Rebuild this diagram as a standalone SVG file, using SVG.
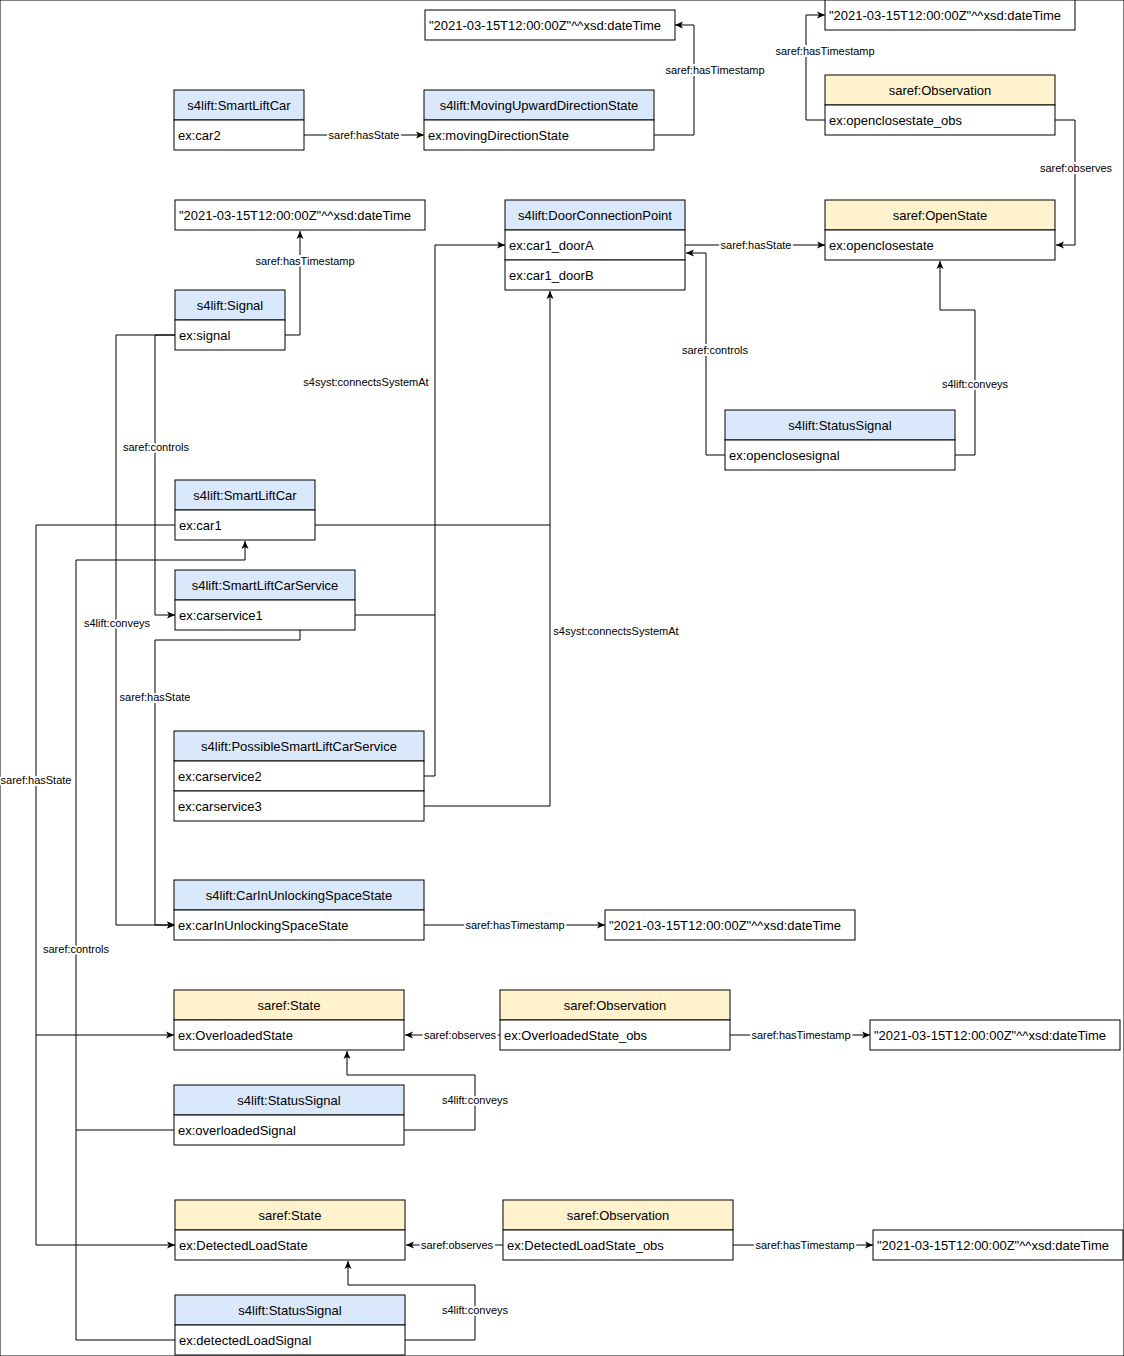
<svg xmlns="http://www.w3.org/2000/svg" width="1124" height="1356" viewBox="0 0 1124 1356">
<style>
rect{stroke:#000;stroke-width:1}
.b{fill:#dae8fc}.y{fill:#fff2cc}.w{fill:#fff}
text{font-family:"Liberation Sans",Arial,sans-serif;font-size:13px;fill:#000}
.h{text-anchor:middle}
.l{font-size:11px;text-anchor:middle;stroke:#fff;stroke-width:4px;paint-order:stroke;fill:#000}
#edges path{fill:none;stroke:#000;stroke-width:1}
</style>
<defs><marker id="a" markerWidth="10" markerHeight="10" refX="9" refY="5" orient="auto" markerUnits="userSpaceOnUse"><path d="M1,1.5 L9,5 L1,8.5 L3,5 Z" fill="#000"/></marker></defs>
<rect width="1124" height="1356" fill="#fff" stroke="none"/>
<g id="edges">
<path d="M304,135H424" marker-end="url(#a)"/>
<path d="M654,135H694V25H675" marker-end="url(#a)"/>
<path d="M825,120H806V15H825" marker-end="url(#a)"/>
<path d="M1055,120H1075V245H1056" marker-end="url(#a)"/>
<path d="M685,245H825" marker-end="url(#a)"/>
<path d="M725,455H706V253H686" marker-end="url(#a)"/>
<path d="M955,455H975V310H940V261" marker-end="url(#a)"/>
<path d="M285,335H300V231" marker-end="url(#a)"/>
<path d="M175,335H155V615H175" marker-end="url(#a)"/>
<path d="M175,335H116V925H175" marker-end="url(#a)"/>
<path d="M315,525H550V291" marker-end="url(#a)"/>
<path d="M424,806H550V525"/>
<path d="M355,615H435V245H505" marker-end="url(#a)"/>
<path d="M424,776H435V615"/>
<path d="M300,630V640H155V925H175" marker-end="url(#a)"/>
<path d="M175,525H36V1245H175" marker-end="url(#a)"/>
<path d="M36,1035H174" marker-end="url(#a)"/>
<path d="M175,1130H76V560H245V541" marker-end="url(#a)"/>
<path d="M175,1340H76V1130"/>
<path d="M424,925H605" marker-end="url(#a)"/>
<path d="M500,1035H405" marker-end="url(#a)"/>
<path d="M730,1035H870" marker-end="url(#a)"/>
<path d="M404,1130H475V1075H347V1051" marker-end="url(#a)"/>
<path d="M503,1245H406" marker-end="url(#a)"/>
<path d="M733,1245H873" marker-end="url(#a)"/>
<path d="M405,1340H475V1285H348V1261" marker-end="url(#a)"/>
<text class="l" x="364" y="139">saref:hasState</text>
<text class="l" x="715" y="74">saref:hasTimestamp</text>
<text class="l" x="825" y="55">saref:hasTimestamp</text>
<text class="l" x="1076" y="172">saref:observes</text>
<text class="l" x="756" y="249">saref:hasState</text>
<text class="l" x="715" y="354">saref:controls</text>
<text class="l" x="975" y="388">s4lift:conveys</text>
<text class="l" x="305" y="265">saref:hasTimestamp</text>
<text class="l" x="156" y="451">saref:controls</text>
<text class="l" x="117" y="627">s4lift:conveys</text>
<text class="l" x="366" y="386">s4syst:connectsSystemAt</text>
<text class="l" x="616" y="635">s4syst:connectsSystemAt</text>
<text class="l" x="155" y="701">saref:hasState</text>
<text class="l" x="36" y="784">saref:hasState</text>
<text class="l" x="76" y="953">saref:controls</text>
<text class="l" x="515" y="929">saref:hasTimestamp</text>
<text class="l" x="460" y="1039">saref:observes</text>
<text class="l" x="801" y="1039">saref:hasTimestamp</text>
<text class="l" x="475" y="1104">s4lift:conveys</text>
<text class="l" x="457" y="1249">saref:observes</text>
<text class="l" x="805" y="1249">saref:hasTimestamp</text>
<text class="l" x="475" y="1314">s4lift:conveys</text>
</g>
<g id="lit1"><rect class="w" x="425" y="10" width="250" height="30"/><text x="429" y="30">"2021-03-15T12:00:00Z"^^xsd:dateTime</text></g>
<g id="lit2"><rect class="w" x="825" y="0" width="250" height="30"/><text x="829" y="20">"2021-03-15T12:00:00Z"^^xsd:dateTime</text></g>
<g id="lit3"><rect class="w" x="175" y="200" width="250" height="30"/><text x="179" y="220">"2021-03-15T12:00:00Z"^^xsd:dateTime</text></g>
<g id="lit4"><rect class="w" x="605" y="910" width="250" height="30"/><text x="609" y="930">"2021-03-15T12:00:00Z"^^xsd:dateTime</text></g>
<g id="lit5"><rect class="w" x="870" y="1020" width="250" height="30"/><text x="874" y="1040">"2021-03-15T12:00:00Z"^^xsd:dateTime</text></g>
<g id="lit6"><rect class="w" x="873" y="1230" width="250" height="30"/><text x="877" y="1250">"2021-03-15T12:00:00Z"^^xsd:dateTime</text></g>
<g id="car2"><rect class="b" x="174" y="90" width="130" height="30"/><rect class="w" x="174" y="120" width="130" height="30"/><text class="h" x="239" y="110">s4lift:SmartLiftCar</text><text x="178" y="140">ex:car2</text></g>
<g id="moving"><rect class="b" x="424" y="90" width="230" height="30"/><rect class="w" x="424" y="120" width="230" height="30"/><text class="h" x="539" y="110">s4lift:MovingUpwardDirectionState</text><text x="428" y="140">ex:movingDirectionState</text></g>
<g id="obs1"><rect class="y" x="825" y="75" width="230" height="30"/><rect class="w" x="825" y="105" width="230" height="30"/><text class="h" x="940" y="95">saref:Observation</text><text x="829" y="125">ex:openclosestate_obs</text></g>
<g id="door"><rect class="b" x="505" y="200" width="180" height="30"/><rect class="w" x="505" y="230" width="180" height="30"/><rect class="w" x="505" y="260" width="180" height="30"/><text class="h" x="595" y="220">s4lift:DoorConnectionPoint</text><text x="509" y="250">ex:car1_doorA</text><text x="509" y="280">ex:car1_doorB</text></g>
<g id="openstate"><rect class="y" x="825" y="200" width="230" height="30"/><rect class="w" x="825" y="230" width="230" height="30"/><text class="h" x="940" y="220">saref:OpenState</text><text x="829" y="250">ex:openclosestate</text></g>
<g id="signal"><rect class="b" x="175" y="290" width="110" height="30"/><rect class="w" x="175" y="320" width="110" height="30"/><text class="h" x="230" y="310">s4lift:Signal</text><text x="179" y="340">ex:signal</text></g>
<g id="status1"><rect class="b" x="725" y="410" width="230" height="30"/><rect class="w" x="725" y="440" width="230" height="30"/><text class="h" x="840" y="430">s4lift:StatusSignal</text><text x="729" y="460">ex:openclosesignal</text></g>
<g id="car1"><rect class="b" x="175" y="480" width="140" height="30"/><rect class="w" x="175" y="510" width="140" height="30"/><text class="h" x="245" y="500">s4lift:SmartLiftCar</text><text x="179" y="530">ex:car1</text></g>
<g id="service"><rect class="b" x="175" y="570" width="180" height="30"/><rect class="w" x="175" y="600" width="180" height="30"/><text class="h" x="265" y="590">s4lift:SmartLiftCarService</text><text x="179" y="620">ex:carservice1</text></g>
<g id="possible"><rect class="b" x="174" y="731" width="250" height="30"/><rect class="w" x="174" y="761" width="250" height="30"/><rect class="w" x="174" y="791" width="250" height="30"/><text class="h" x="299" y="751">s4lift:PossibleSmartLiftCarService</text><text x="178" y="781">ex:carservice2</text><text x="178" y="811">ex:carservice3</text></g>
<g id="unlock"><rect class="b" x="174" y="880" width="250" height="30"/><rect class="w" x="174" y="910" width="250" height="30"/><text class="h" x="299" y="900">s4lift:CarInUnlockingSpaceState</text><text x="178" y="930">ex:carInUnlockingSpaceState</text></g>
<g id="state1"><rect class="y" x="174" y="990" width="230" height="30"/><rect class="w" x="174" y="1020" width="230" height="30"/><text class="h" x="289" y="1010">saref:State</text><text x="178" y="1040">ex:OverloadedState</text></g>
<g id="obs2"><rect class="y" x="500" y="990" width="230" height="30"/><rect class="w" x="500" y="1020" width="230" height="30"/><text class="h" x="615" y="1010">saref:Observation</text><text x="504" y="1040">ex:OverloadedState_obs</text></g>
<g id="status2"><rect class="b" x="174" y="1085" width="230" height="30"/><rect class="w" x="174" y="1115" width="230" height="30"/><text class="h" x="289" y="1105">s4lift:StatusSignal</text><text x="178" y="1135">ex:overloadedSignal</text></g>
<g id="state2"><rect class="y" x="175" y="1200" width="230" height="30"/><rect class="w" x="175" y="1230" width="230" height="30"/><text class="h" x="290" y="1220">saref:State</text><text x="179" y="1250">ex:DetectedLoadState</text></g>
<g id="obs3"><rect class="y" x="503" y="1200" width="230" height="30"/><rect class="w" x="503" y="1230" width="230" height="30"/><text class="h" x="618" y="1220">saref:Observation</text><text x="507" y="1250">ex:DetectedLoadState_obs</text></g>
<g id="status3"><rect class="b" x="175" y="1295" width="230" height="30"/><rect class="w" x="175" y="1325" width="230" height="30"/><text class="h" x="290" y="1315">s4lift:StatusSignal</text><text x="179" y="1345">ex:detectedLoadSignal</text></g>
</svg>
